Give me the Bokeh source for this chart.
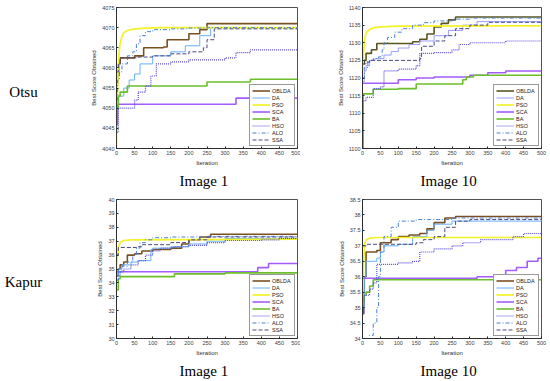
from bokeh.plotting import figure
from bokeh.layouts import column, row
from bokeh.models import FixedTicker, Legend, Title
from bokeh.core.properties import value
from bokeh.embed import file_html
from bokeh.resources import INLINE

# ---------------- data (iteration breakpoints, best score) ----------------
ALGOS = ["OBLDA", "DA", "PSO", "SCA", "BA", "HSO", "ALO", "SSA"]
ITER_TICKS = [0, 50, 100, 150, 200, 250, 300, 350, 400, 450, 500]
ROW_LABELS = ["Otsu", "Kapur"]
CAPTIONS = ["Image 1", "Image 10"]

otsu_img1 = {
    "OBLDA": ([0, 3, 6, 10, 50, 75, 130, 140, 200, 230, 250, 500],
              [4056, 4058, 4061, 4062.5, 4063, 4065, 4065.2, 4067, 4068.5, 4069.5, 4071, 4071]),
    "DA": ([0, 5, 20, 35, 50, 65, 100, 150, 190, 230, 260, 500],
           [4050, 4053, 4055, 4057, 4058.5, 4061, 4063, 4064, 4065.5, 4068, 4070, 4070]),
    "PSO": ([0, 2, 4, 6, 8, 10, 15, 20, 30, 50, 80, 120, 500],
            [4041, 4050, 4058, 4062, 4064.5, 4066, 4067.8, 4068.7, 4069.3, 4069.7, 4069.9, 4070, 4070]),
    "SCA": ([0, 3, 330, 500], [4046, 4051, 4052.5, 4052.5]),
    "BA": ([0, 5, 10, 30, 250, 370, 500], [4050, 4053, 4054, 4055.5, 4056.5, 4057.2, 4057.2]),
    "HSO": ([0, 5, 50, 60, 80, 95, 110, 150, 200, 300, 330, 370, 500],
            [4044, 4050, 4052, 4054, 4055.5, 4058, 4061, 4061.5, 4062, 4062.5, 4063.8, 4064.5, 4065]),
    "ALO": ([0, 3, 8, 15, 30, 45, 55, 65, 80, 100, 150, 200, 250, 500],
            [4052, 4057, 4059, 4061, 4063, 4064, 4066, 4068, 4069, 4069.5, 4069.7, 4069.9, 4070, 4070]),
    "SSA": ([0, 5, 10, 60, 100, 150, 200, 240, 250, 270, 500],
            [4059, 4061, 4062.5, 4062.7, 4063, 4063.5, 4064, 4065, 4067, 4069.7, 4069.7]),
}
otsu_img1_yticks = [4040, 4045, 4050, 4055, 4060, 4065, 4070, 4075]

otsu_img10 = {
    "OBLDA": ([0, 5, 10, 25, 40, 140, 160, 180, 200, 220, 240, 260, 500],
              [1124, 1125, 1127, 1128, 1129.8, 1130.3, 1131, 1132.5, 1134.5, 1135.5, 1136.5, 1137.3, 1137.3]),
    "DA": ([0, 5, 10, 20, 35, 60, 80, 100, 130, 160, 200, 240, 280, 320, 500],
           [1119, 1122, 1123.5, 1125, 1125.5, 1126.5, 1127.5, 1128.5, 1129.5, 1130.5, 1132, 1133.5, 1135, 1136, 1136]),
    "PSO": ([0, 3, 5, 8, 12, 20, 30, 50, 100, 500],
            [1122, 1127, 1130, 1132, 1133, 1133.8, 1134.2, 1134.5, 1134.7, 1134.8]),
    "SCA": ([0, 100, 150, 200, 300, 350, 400, 500],
            [1118.5, 1119.5, 1120, 1120.3, 1120.8, 1121.5, 1122, 1122]),
    "BA": ([0, 2, 30, 100, 150, 280, 290, 310, 500],
           [1100, 1115.5, 1116.8, 1117, 1118.3, 1119.5, 1120.3, 1120.8, 1120.8]),
    "HSO": ([0, 10, 30, 50, 60, 100, 150, 160, 200, 250, 270, 300, 400, 500],
            [1113.5, 1114.5, 1117, 1117.5, 1122, 1122.5, 1123.5, 1127, 1127.2, 1128, 1129.5, 1130, 1130.5, 1131]),
    "ALO": ([0, 5, 15, 30, 45, 55, 60, 70, 90, 110, 140, 170, 200, 250, 300, 500],
            [1120, 1123, 1125, 1125.5, 1126, 1128, 1130, 1131.5, 1133, 1134, 1135, 1135.7, 1136.2, 1136.7, 1137, 1137]),
    "SSA": ([0, 10, 20, 160, 165, 200, 230, 260, 300, 350, 500],
            [1124, 1124.5, 1125, 1125.5, 1129, 1130.5, 1132, 1134, 1135, 1135.8, 1135.8]),
}
otsu_img10_yticks = [1100, 1105, 1110, 1115, 1120, 1125, 1130, 1135, 1140]

kapur_img1 = {
    "OBLDA": ([0, 5, 10, 20, 30, 50, 70, 100, 150, 180, 200, 230, 260, 500],
              [34.5, 35, 35.3, 35.5, 36, 36.1, 36.3, 36.4, 36.5, 36.8, 37.1, 37.3, 37.5, 37.5]),
    "DA": ([0, 5, 15, 40, 60, 95, 100, 150, 200, 250, 300, 500],
           [34.5, 35, 35.3, 35.5, 35.6, 36.4, 36.5, 36.6, 36.8, 37, 37.2, 37.3]),
    "PSO": ([0, 3, 6, 10, 20, 40, 500], [35, 36, 36.6, 36.9, 37.05, 37.1, 37.15]),
    "SCA": ([0, 390, 420, 500], [34.8, 35.1, 35.4, 35.4]),
    "BA": ([0, 5, 10, 160, 300, 500], [33.5, 34.3, 34.45, 34.65, 34.72, 34.72]),
    "HSO": ([0, 10, 20, 40, 60, 80, 100, 120, 160, 200, 250, 300, 400, 450, 500],
            [34.5, 34.8, 35, 35.3, 35.6, 36, 36.3, 36.5, 36.6, 36.7, 36.9, 37.05, 37.1, 37.2, 37.25]),
    "ALO": ([0, 5, 15, 30, 45, 55, 65, 80, 100, 150, 250, 500],
            [34.2, 34.8, 35.2, 35.5, 36, 36.5, 36.9, 37.1, 37.25, 37.3, 37.35, 37.35]),
    "SSA": ([0, 5, 60, 70, 150, 200, 250, 500], [36, 36.55, 36.6, 36.75, 36.9, 37.1, 37.3, 37.3]),
}
kapur_img1_yticks = [30, 31, 32, 33, 34, 35, 36, 37, 38, 39, 40]

kapur_img10 = {
    "OBLDA": ([0, 3, 5, 10, 40, 50, 80, 100, 130, 160, 180, 200, 230, 260, 500],
              [34.8, 35.5, 36, 36.8, 36.85, 37.1, 37.2, 37.3, 37.35, 37.4, 37.55, 37.75, 37.9, 37.95, 37.95]),
    "DA": ([0, 5, 10, 40, 50, 60, 100, 140, 180, 200, 250, 500],
           [35, 36, 36.5, 36.6, 36.8, 37, 37.05, 37.3, 37.5, 37.7, 37.8, 37.85]),
    "PSO": ([0, 2, 4, 6, 10, 20, 40, 500], [35, 36, 36.7, 37.05, 37.2, 37.25, 37.27, 37.27]),
    "SCA": ([0, 320, 400, 430, 460, 490, 500], [35.95, 36, 36.2, 36.3, 36.5, 36.6, 36.6]),
    "BA": ([0, 5, 10, 20, 30, 500], [35.2, 35.4, 35.5, 35.7, 35.9, 35.9]),
    "HSO": ([0, 5, 20, 30, 40, 100, 140, 160, 200, 250, 280, 330, 420, 450, 500],
            [34.8, 35.4, 35.6, 35.8, 36.4, 36.45, 36.5, 36.8, 36.9, 37, 37.1, 37.2, 37.3, 37.4, 37.5]),
    "ALO": ([10, 20, 30, 40, 45, 50, 60, 80, 100, 150, 250, 500],
            [34, 34.1, 34.5, 35, 36, 36.8, 37.3, 37.6, 37.8, 37.85, 37.9, 37.9]),
    "SSA": ([0, 10, 150, 170, 200, 230, 260, 300, 500],
            [37, 37.05, 37.1, 37.2, 37.3, 37.6, 37.8, 37.85, 37.9]),
}
kapur_img10_yticks = [34, 34.5, 35, 35.5, 36, 36.5, 37, 37.5, 38, 38.5]

# ---------------- styles ----------------
STYLE = {
    "OBLDA": dict(color="#7a5022", width=1.6, dash="solid", kind="step"),
    "DA": dict(color="#66b0ff", width=1.0, dash="solid", kind="step"),
    "PSO": dict(color="#f2f22a", width=1.7, dash="solid", kind="line"),
    "SCA": dict(color="#a45cff", width=1.6, dash="solid", kind="step"),
    "BA": dict(color="#6cbf2a", width=1.6, dash="solid", kind="step"),
    "HSO": dict(color="#5a4de0", width=1.2, dash="1 1", kind="step"),
    "ALO": dict(color="#4a80d6", width=1.0, dash="4 2 1 2", kind="step"),
    "SSA": dict(color="#4a4a80", width=1.0, dash="4 2", kind="step"),
}

SERIF = "Liberation Serif"
SANS = "Liberation Sans"


def make_panel(data, yticks, width, height, mbl, mbr, mbt, mbb, caption, cap_offset,
               da_color=None, oblda_color=None):
    p = figure(width=width, height=height, output_backend="svg", toolbar_location=None,
               x_range=(0, 500), y_range=(yticks[0], yticks[-1]),
               min_border_left=mbl, min_border_right=mbr,
               min_border_top=mbt, min_border_bottom=mbb)
    p.background_fill_color = "white"
    p.border_fill_color = "white"
    p.outline_line_color = "#262626"
    p.outline_line_width = 0.8
    p.xgrid.visible = False
    p.ygrid.visible = False
    items = []
    for name in ALGOS:
        xs, ys = data[name]
        st = STYLE[name]
        color = st["color"]
        if name == "DA" and da_color:
            color = da_color
        if name == "OBLDA" and oblda_color:
            color = oblda_color
        if st["kind"] == "step":
            r = p.step(xs, ys, mode="after", line_color=color, line_width=st["width"],
                       line_dash=st["dash"])
        else:
            r = p.line(xs, ys, line_color=color, line_width=st["width"], line_dash=st["dash"])
        items.append((name, [r]))
    leg = Legend(items=items, location="bottom_right")
    leg.label_text_font = SANS
    leg.label_text_font_size = "5.5px"
    leg.label_text_color = "#222222"
    leg.glyph_height = 7
    leg.label_height = 7
    leg.glyph_width = 18
    leg.label_standoff = 2
    leg.spacing = 0
    leg.padding = 2
    leg.margin = 2
    leg.border_line_color = "#333333"
    leg.border_line_width = 0.8
    leg.background_fill_alpha = 1
    p.add_layout(leg, "center")

    for ax in (p.xaxis[0], p.yaxis[0]):
        ax.major_tick_in = 2
        ax.major_tick_out = 0
        ax.minor_tick_line_color = None
        ax.axis_line_color = "#262626"
        ax.axis_line_width = 0.8
        ax.major_tick_line_color = "#262626"
        ax.major_label_text_font = SANS
        ax.major_label_text_font_size = "5.5px"
        ax.major_label_text_color = "#404040"
        ax.major_label_standoff = 2
        ax.axis_label_text_font = SANS
        ax.axis_label_text_font_size = "6px"
        ax.axis_label_text_font_style = "normal"
        ax.axis_label_text_color = "#303030"
        ax.axis_label_standoff = 2
    p.xaxis.ticker = FixedTicker(ticks=ITER_TICKS)
    p.yaxis.ticker = FixedTicker(ticks=yticks)
    p.xaxis.axis_label = "Iteration"
    p.yaxis.axis_label = "Best Score Obtained"

    p.add_layout(Title(text=caption, align="left", text_font=SERIF, text_font_size="15px",
                       text_font_style="normal", text_color="#000000", standoff=4,
                       offset=cap_offset), "below")
    return p


def make_rowlabel(text, width, height, frame_lo, frame_hi, ty):
    # y data = canvas pixels measured from the bottom; frame aligned with the row's plots
    q = figure(width=width, height=height, output_backend="svg", toolbar_location=None,
               x_range=(0, width), y_range=(frame_lo, frame_hi),
               x_axis_type=None, y_axis_type=None, min_border=0)
    q.outline_line_color = None
    q.xgrid.visible = False
    q.ygrid.visible = False
    q.text(x=[width / 2 - 2], y=[ty], text=[text], text_font=value(SERIF),
           text_font_size="15px", text_align="center", text_baseline="middle",
           text_color="#000000")
    return q


lab1 = make_rowlabel(ROW_LABELS[0], 50, 190, 41, 183, 98)
lab2 = make_rowlabel(ROW_LABELS[1], 50, 190, 40, 181, 97)
p1 = make_panel(otsu_img1, otsu_img1_yticks, 250, 190, 66, 3, 7, 41, CAPTIONS[0], 63)
p2 = make_panel(otsu_img10, otsu_img10_yticks, 250, 190, 62, 9, 7, 41, CAPTIONS[1], 58,
                da_color="#9c9cff", oblda_color="#5b5520")
p3 = make_panel(kapur_img1, kapur_img1_yticks, 250, 190, 66, 3, 9, 40, CAPTIONS[0], 63)
p4 = make_panel(kapur_img10, kapur_img10_yticks, 250, 190, 62, 9, 9, 40, CAPTIONS[1], 58)

layout = column(row(lab1, p1, p2, spacing=0), row(lab2, p3, p4, spacing=0), spacing=0)

open("out.html", "w").write(file_html(layout, INLINE))
